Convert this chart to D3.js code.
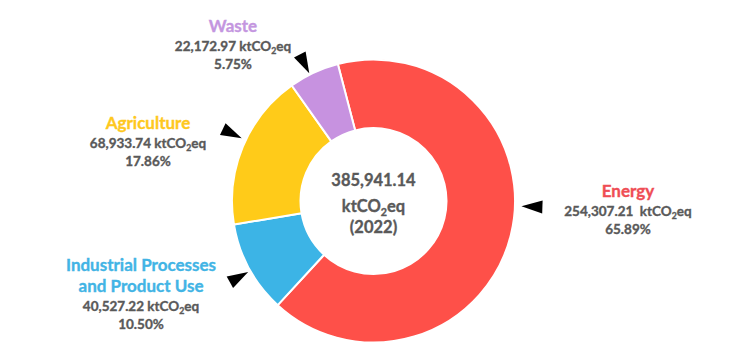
<!DOCTYPE html>
<html>
<head>
<meta charset="utf-8">
<script src="https://cdn.jsdelivr.net/npm/d3@7"></script>
<style>
  html, body { margin: 0; padding: 0; background: #ffffff; }
  svg { display: block; }
  text { font-family: Lato, "Noto Sans", sans-serif; font-weight: bold; }
</style>
</head>
<body>
<script>
// ---- data ----
const categories = ["Energy", "Industrial Processes and Product Use", "Agriculture", "Waste"];
const values = [254307.21, 40527.22, 68933.74, 22172.97];
const percents = [65.89, 10.50, 17.86, 5.75];
const totalValue = 385941.14;
const year = "2022";
const unit = "ktCO";  // + subscript 2 + "eq"
const sliceColors = ["#fe5049", "#3cb4e6", "#ffcb19", "#c792e0"];
const labelColors = ["#ef4d55", "#42b4e5", "#fec81e", "#c496e0"];

// ---- layout (not data) ----
const W = 742, H = 358;
const cx = 373.5, cy = 201, rOuter = 141.5, rInner = 73;
const startDeg = -14.6;
const labelLayout = [
  { x: 628, y: 197, titleLines: ["Energy"], gap: "  ", arrowDeg: 92, arrowR: 148 },
  { x: 141, y: 271, titleLines: ["Industrial Processes", "and Product Use"], gap: " ", arrowDeg: 240.5, arrowR: 144 },
  { x: 148, y: 129, titleLines: ["Agriculture"], gap: " ", arrowDeg: 295.5, arrowR: 146 },
  { x: 233, y: 32, titleLines: ["Waste"], gap: " ", arrowDeg: 333.3, arrowR: 143 }
];

const fmt = d3.format(",.2f");
const grey = "#595959";

const svg = d3.select("body").append("svg").attr("width", W).attr("height", H);
svg.append("rect").attr("width", W).attr("height", H).attr("fill", "#fff");

const pie = d3.pie().sort(null).value(d => d)
  .startAngle(startDeg * Math.PI / 180)
  .endAngle(startDeg * Math.PI / 180 + 2 * Math.PI);
const arc = d3.arc().innerRadius(rInner).outerRadius(rOuter);

const g = svg.append("g").attr("transform", `translate(${cx},${cy})`);
g.selectAll("path.slice").data(pie(values)).join("path")
  .attr("class", "slice")
  .attr("d", arc)
  .attr("fill", (d, i) => sliceColors[i])
  .attr("stroke", "#fff")
  .attr("stroke-width", 2)
  .attr("stroke-linejoin", "round");

function heavy(sel, color) {
  return sel.attr("fill", color).attr("stroke", color).attr("stroke-width", 0.35);
}

// unit helper: appends "ktCO₂eq" with real subscript
function appendUnit(textSel, size) {
  textSel.append("tspan").text(unit);
  textSel.append("tspan").text("2").attr("font-size", size * 0.65).attr("dy", size * 0.22);
  textSel.append("tspan").text("eq").attr("dy", -size * 0.22);
}

// center text
const cSize = 16.5;
heavy(g.append("text").attr("text-anchor", "middle").attr("y", -15).attr("font-size", cSize), grey)
  .text(fmt(totalValue));
const cu = heavy(g.append("text").attr("text-anchor", "middle").attr("y", 11).attr("font-size", cSize), grey);
appendUnit(cu, cSize);
heavy(g.append("text").attr("text-anchor", "middle").attr("y", 32).attr("font-size", cSize), grey)
  .text("(" + year + ")");

// labels
const tSize = 17, vSize = 13.5;
labelLayout.forEach((L, i) => {
  let y = L.y;
  L.titleLines.forEach((line) => {
    heavy(svg.append("text").attr("x", L.x).attr("y", y).attr("text-anchor", "middle")
      .attr("font-size", tSize), labelColors[i]).text(line);
    y += 21;
  });
  y -= 2;
  const t = heavy(svg.append("text").attr("x", L.x).attr("y", y).attr("text-anchor", "middle")
    .attr("font-size", vSize).attr("xml:space", "preserve"), grey);
  t.append("tspan").text(fmt(values[i]) + L.gap);
  appendUnit(t, vSize);
  y += 18;
  heavy(svg.append("text").attr("x", L.x).attr("y", y).attr("text-anchor", "middle")
    .attr("font-size", vSize), grey).text(percents[i].toFixed(2) + "%");

  // arrowhead pointing at the ring
  const a = L.arrowDeg * Math.PI / 180;
  const ux = Math.sin(a), uy = -Math.cos(a);       // outward unit vector
  const px = -uy, py = ux;                           // perpendicular
  const tip = [cx + ux * L.arrowR, cy + uy * L.arrowR];
  const len = 21, hw = 6.5;
  const base = [tip[0] + ux * len, tip[1] + uy * len];
  const pts = [tip, [base[0] + px * hw, base[1] + py * hw], [base[0] - px * hw, base[1] - py * hw]];
  svg.append("path").attr("d", d3.line()(pts) + "Z").attr("fill", "#000");
});
</script>
</body>
</html>
